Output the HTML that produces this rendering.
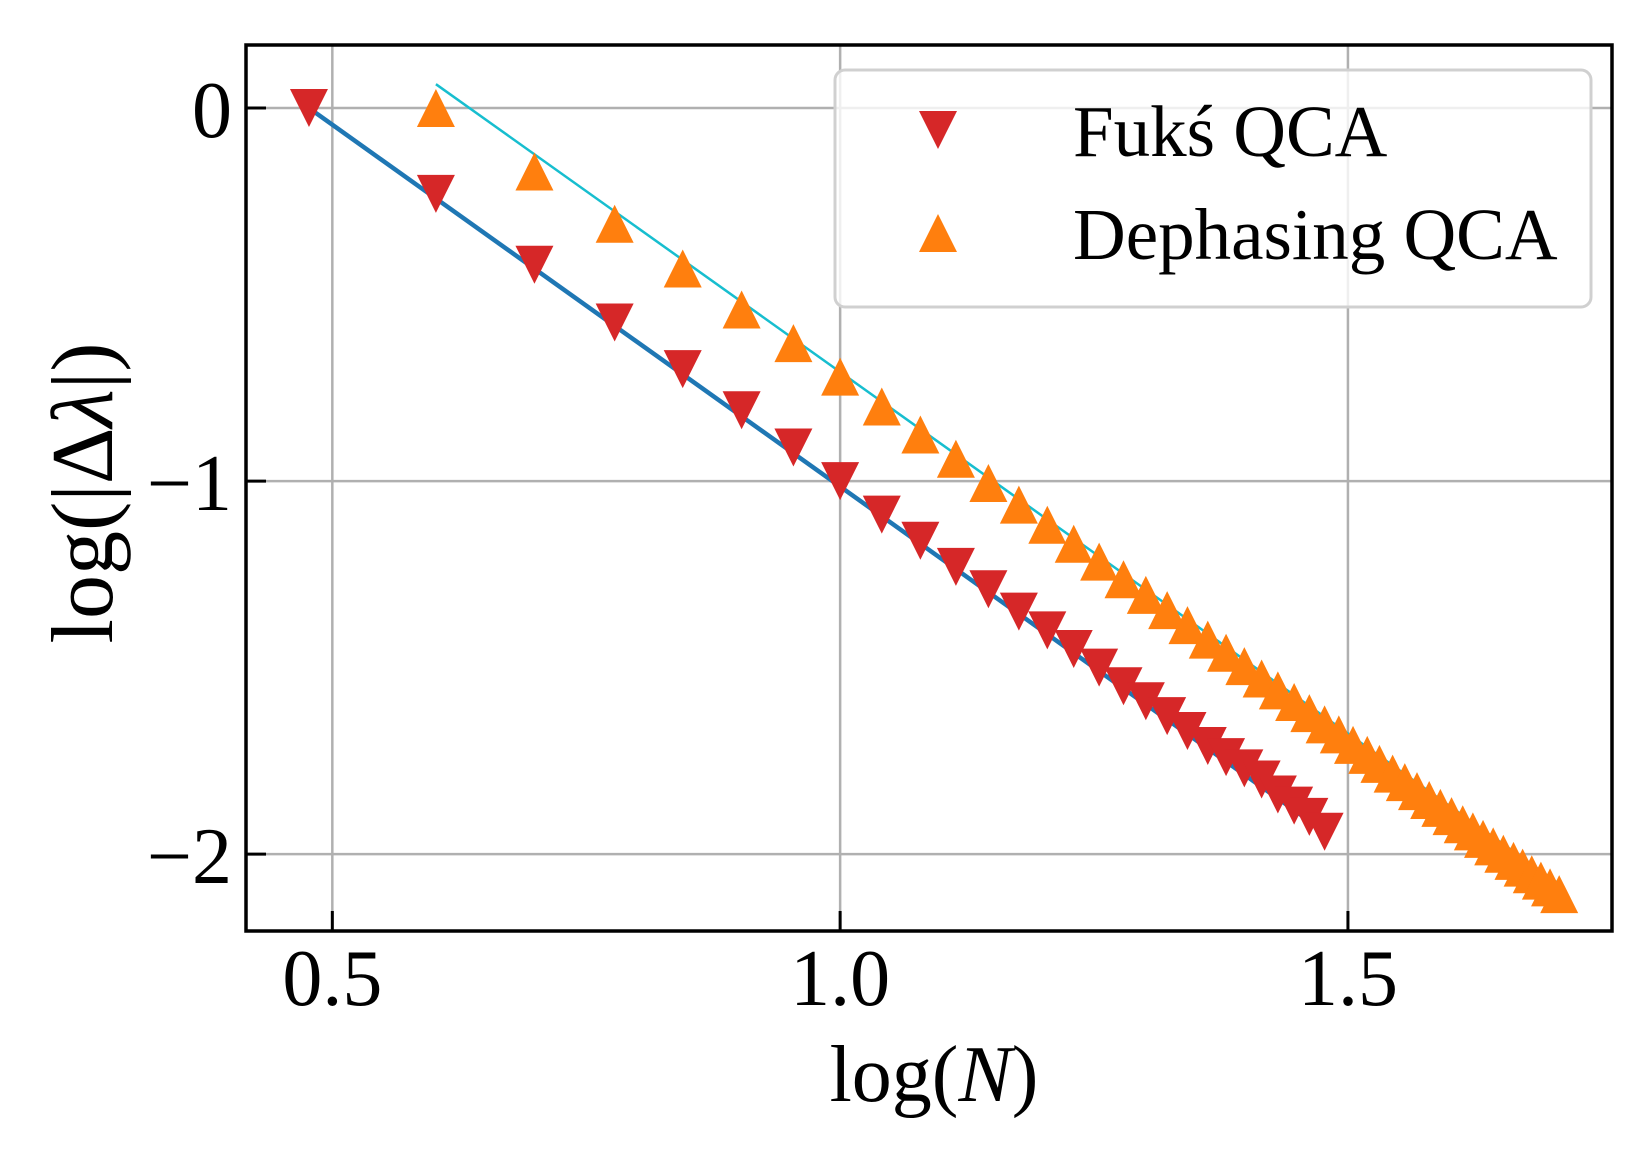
<!DOCTYPE html>
<html><head><meta charset="utf-8"><style>
html,body{margin:0;padding:0;background:#fff;}
svg{display:block;font-family:"Liberation Serif","DejaVu Serif",serif;}
</style></head><body>
<svg id="chart" width="1637" height="1157" viewBox="0 0 1637 1157" xmlns="http://www.w3.org/2000/svg">
<rect width="1637" height="1157" fill="#fff"/>
<g id="grid"></g>
<g id="lines"></g>
<g id="marks"></g>
<g id="axes"></g>
<text x="934" y="1101" font-size="80" text-anchor="middle">log(<tspan font-style="italic">N</tspan>)</text>
<text transform="translate(112,493) rotate(-90)" font-size="88" text-anchor="middle">log(|Δ<tspan font-style="italic">λ</tspan>|)</text>
<g>
<rect x="835" y="70" width="756" height="237" rx="10" fill="#fff" fill-opacity="0.8" stroke="#d0d0d0" stroke-width="3"/>
<path d="M919,111 L957,111 L938,149 Z" fill="#d62728"/>
<text x="1073" y="156" font-size="73">Fukś QCA</text>
<path d="M919,252 L957,252 L938,214 Z" fill="#ff7f0e"/>
<text x="1073" y="259" font-size="73">Dephasing QCA</text>
</g>
</svg>
<script>
const xTicks=[0.5,1.0,1.5];
const xTickLabels=["0.5","1.0","1.5"];
const yTicks=[0,-1,-2];
const yTickLabels=["0","\u22121","\u22122"];
const fuksX=[0.477,0.602,0.699,0.778,0.845,0.903,0.954,1.000,1.041,1.079,1.114,1.146,1.176,1.204,1.230,1.255,1.279,1.301,1.322,1.342,1.362,1.380,1.398,1.415,1.431,1.447,1.462,1.477];
const fuksY=[0,-0.23,-0.42,-0.575,-0.70,-0.81,-0.91,-1.00,-1.09,-1.16,-1.23,-1.29,-1.35,-1.40,-1.45,-1.50,-1.55,-1.59,-1.63,-1.67,-1.71,-1.74,-1.77,-1.80,-1.84,-1.87,-1.90,-1.94];
const dephX=[0.602,0.699,0.778,0.845,0.903,0.954,1.000,1.041,1.079,1.114,1.146,1.176,1.204,1.230,1.255,1.279,1.301,1.322,1.342,1.362,1.380,1.398,1.415,1.431,1.447,1.462,1.477,1.491,1.505,1.519,1.531,1.544,1.556,1.568,1.580,1.591,1.602,1.613,1.623,1.633,1.643,1.653,1.663,1.672,1.681,1.690,1.699,1.708];
const dephY=[0,-0.17,-0.31,-0.43,-0.54,-0.63,-0.72,-0.80,-0.875,-0.94,-1.005,-1.063,-1.117,-1.168,-1.216,-1.263,-1.305,-1.346,-1.386,-1.425,-1.460,-1.496,-1.529,-1.561,-1.592,-1.622,-1.652,-1.679,-1.707,-1.734,-1.758,-1.784,-1.807,-1.831,-1.855,-1.876,-1.898,-1.920,-1.939,-1.959,-1.979,-1.999,-2.018,-2.036,-2.054,-2.071,-2.089,-2.107];
const fitFuksX=[0.477,1.477];
const fitFuksY=[0,-1.94];
const fitDephX=[0.602,1.708];
const fitDephY=[0.064,-2.08];

const L=246,R=1612,T=45,B=931;
const X0=0.415,X1=1.760,Y0=-2.206,Y1=0.169;
function sx(v){return L+(v-X0)/(X1-X0)*(R-L);}
function sy(v){return B-(v-Y0)/(Y1-Y0)*(B-T);}
const NS='http://www.w3.org/2000/svg';
function mk(tag,attrs,parent){const e=document.createElementNS(NS,tag);for(const k in attrs)e.setAttribute(k,attrs[k]);parent.appendChild(e);return e;}
const grid=document.getElementById('grid'),lines=document.getElementById('lines'),marks=document.getElementById('marks'),axes=document.getElementById('axes');

xTicks.forEach((t,i)=>{
  const g=mk('line',{x1:sx(t),x2:sx(t),y1:T,y2:B,stroke:'#b0b0b0','stroke-width':2.5},grid);
  
  
  const tk=mk('line',{x1:sx(t),x2:sx(t),y1:B,y2:B-20,stroke:'#000','stroke-width':3},axes);
  
  
  const lb=mk('text',{x:sx(t),y:1005,'font-size':80,'text-anchor':'middle'},axes);
  lb.textContent=xTickLabels[i];
  
  
});
yTicks.forEach((t,i)=>{
  const g=mk('line',{x1:L,x2:R,y1:sy(t),y2:sy(t),stroke:'#b0b0b0','stroke-width':2.5},grid);
  
  
  const tk=mk('line',{x1:L,x2:L+20,y1:sy(t),y2:sy(t),stroke:'#000','stroke-width':3},axes);
  
  
  const lb=mk('text',{x:232,y:sy(t)+29,'font-size':80,'text-anchor':'end'},axes);
  lb.textContent=yTickLabels[i];
  
  
});
const frame=mk('rect',{x:L,y:T,width:R-L,height:B-T,fill:'none',stroke:'#000','stroke-width':3.5},axes);



const fl1=mk('line',{x1:sx(fitFuksX[0]),y1:sy(fitFuksY[0]),x2:sx(fitFuksX[1]),y2:sy(fitFuksY[1]),stroke:'#1f77b4','stroke-width':4.5},lines);


const fl2=mk('line',{x1:sx(fitDephX[0]),y1:sy(fitDephY[0]),x2:sx(fitDephX[1]),y2:sy(fitDephY[1]),stroke:'#17becf','stroke-width':2.5},lines);



const h=19;
fuksX.forEach((v,i)=>{
  const cx=sx(v),cy=sy(fuksY[i]);
  const p=mk('path',{d:`M${cx-h},${cy-h} L${cx+h},${cy-h} L${cx},${cy+h} Z`,fill:'#d62728'},marks);
  
  
});
dephX.forEach((v,i)=>{
  const cx=sx(v),cy=sy(dephY[i]);
  const p=mk('path',{d:`M${cx-h},${cy+h} L${cx+h},${cy+h} L${cx},${cy-h} Z`,fill:'#ff7f0e'},marks);
  
  
});
</script>
</body></html>
